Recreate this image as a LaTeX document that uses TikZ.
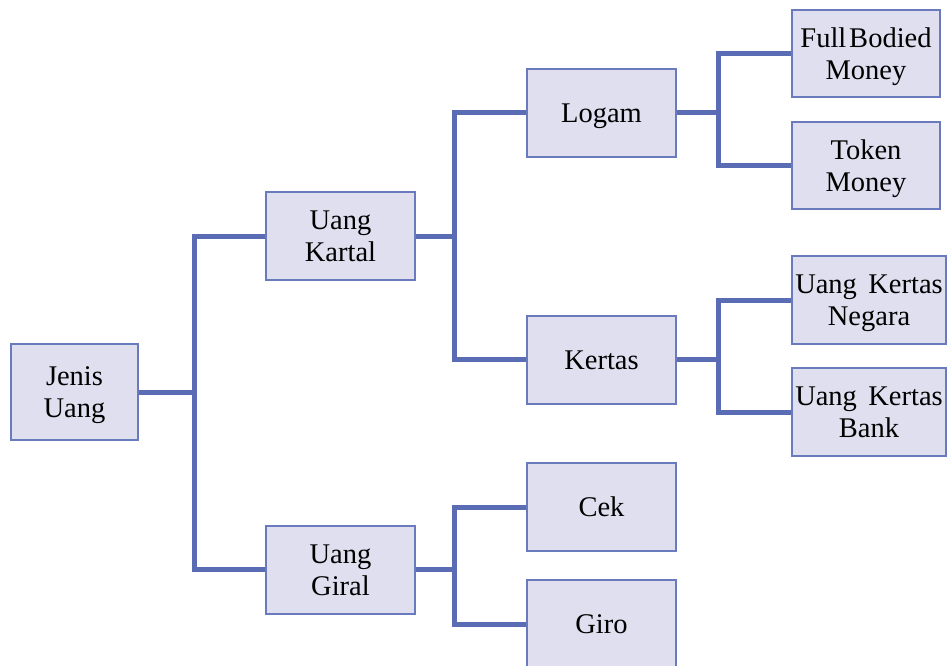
\documentclass[tikz,border=0pt]{standalone}
\usepackage{fontspec}
\setmainfont{Liberation Serif}
\definecolor{linec}{HTML}{5A6CB3}
\definecolor{boxfill}{HTML}{DFDFEF}
\definecolor{boxline}{HTML}{6A7BBD}
\newcommand\bxtext[1]{\raisebox{-3.5pt}[\height][\depth]{\begin{tabular}{@{}c@{}}#1\end{tabular}}}
\begin{document}
\begin{tikzpicture}[x=1pt,y=-1pt,
  box/.style={draw=boxline,fill=boxfill,line width=2pt,minimum width=149pt,minimum height=88pt,
    inner sep=0pt,font=\fontsize{28.5}{32}\selectfont},
  conn/.style={draw=linec,line width=5pt}]
\useasboundingbox (0,0) rectangle (947,666);
\node[box,minimum width=127pt,minimum height=96pt] (jenis) at (74.5,392) {\bxtext{Jenis\\Uang}};
\node[box] (kartal) at (340.5,236) {\bxtext{Uang\\Kartal}};
\node[box] (giral) at (340.5,569.5) {\bxtext{Uang\\Giral}};
\node[box] (logam) at (601.5,113) {\bxtext{Logam}};
\node[box] (kertas) at (601.5,359.5) {\bxtext{Kertas}};
\node[box] (cek) at (601.5,507) {\bxtext{Cek}};
\node[box] (giro) at (601.5,624) {\bxtext{Giro}};
\node[box,minimum width=148pt,minimum height=87pt] (fbm) at (866,53.5) {\bxtext{Full\hspace{0.1em}Bodied\\Money}};
\node[box,minimum width=148pt,minimum height=87pt] (token) at (866,165.5) {\bxtext{Token\\Money}};
\node[box,minimum width=154pt] (ukn) at (869,300) {\bxtext{Uang\hspace{0.4em}Kertas\\Negara}};
\node[box,minimum width=154pt] (ukb) at (869,412) {\bxtext{Uang\hspace{0.4em}Kertas\\Bank}};
% connectors
\draw[conn] (jenis.east) -- ++(55,0) coordinate (s1);
\draw[conn] (kartal.west) -| (s1) |- (giral.west);
\draw[conn] (kartal.east) -- ++(38,0) coordinate (s2);
\draw[conn] (logam.west) -| (s2) |- (kertas.west);
\draw[conn] (giral.east) -- ++(38,0) coordinate (s3);
\draw[conn] (cek.west) -| (s3) |- (giro.west);
\draw[conn] (logam.east) -- ++(41,0) coordinate (s4);
\draw[conn] (fbm.west) -| (s4) |- (token.west);
\draw[conn] (kertas.east) -- ++(41,0) coordinate (s5);
\draw[conn] (ukn.west) -| (s5) |- (ukb.west);
\end{tikzpicture}
\end{document}
